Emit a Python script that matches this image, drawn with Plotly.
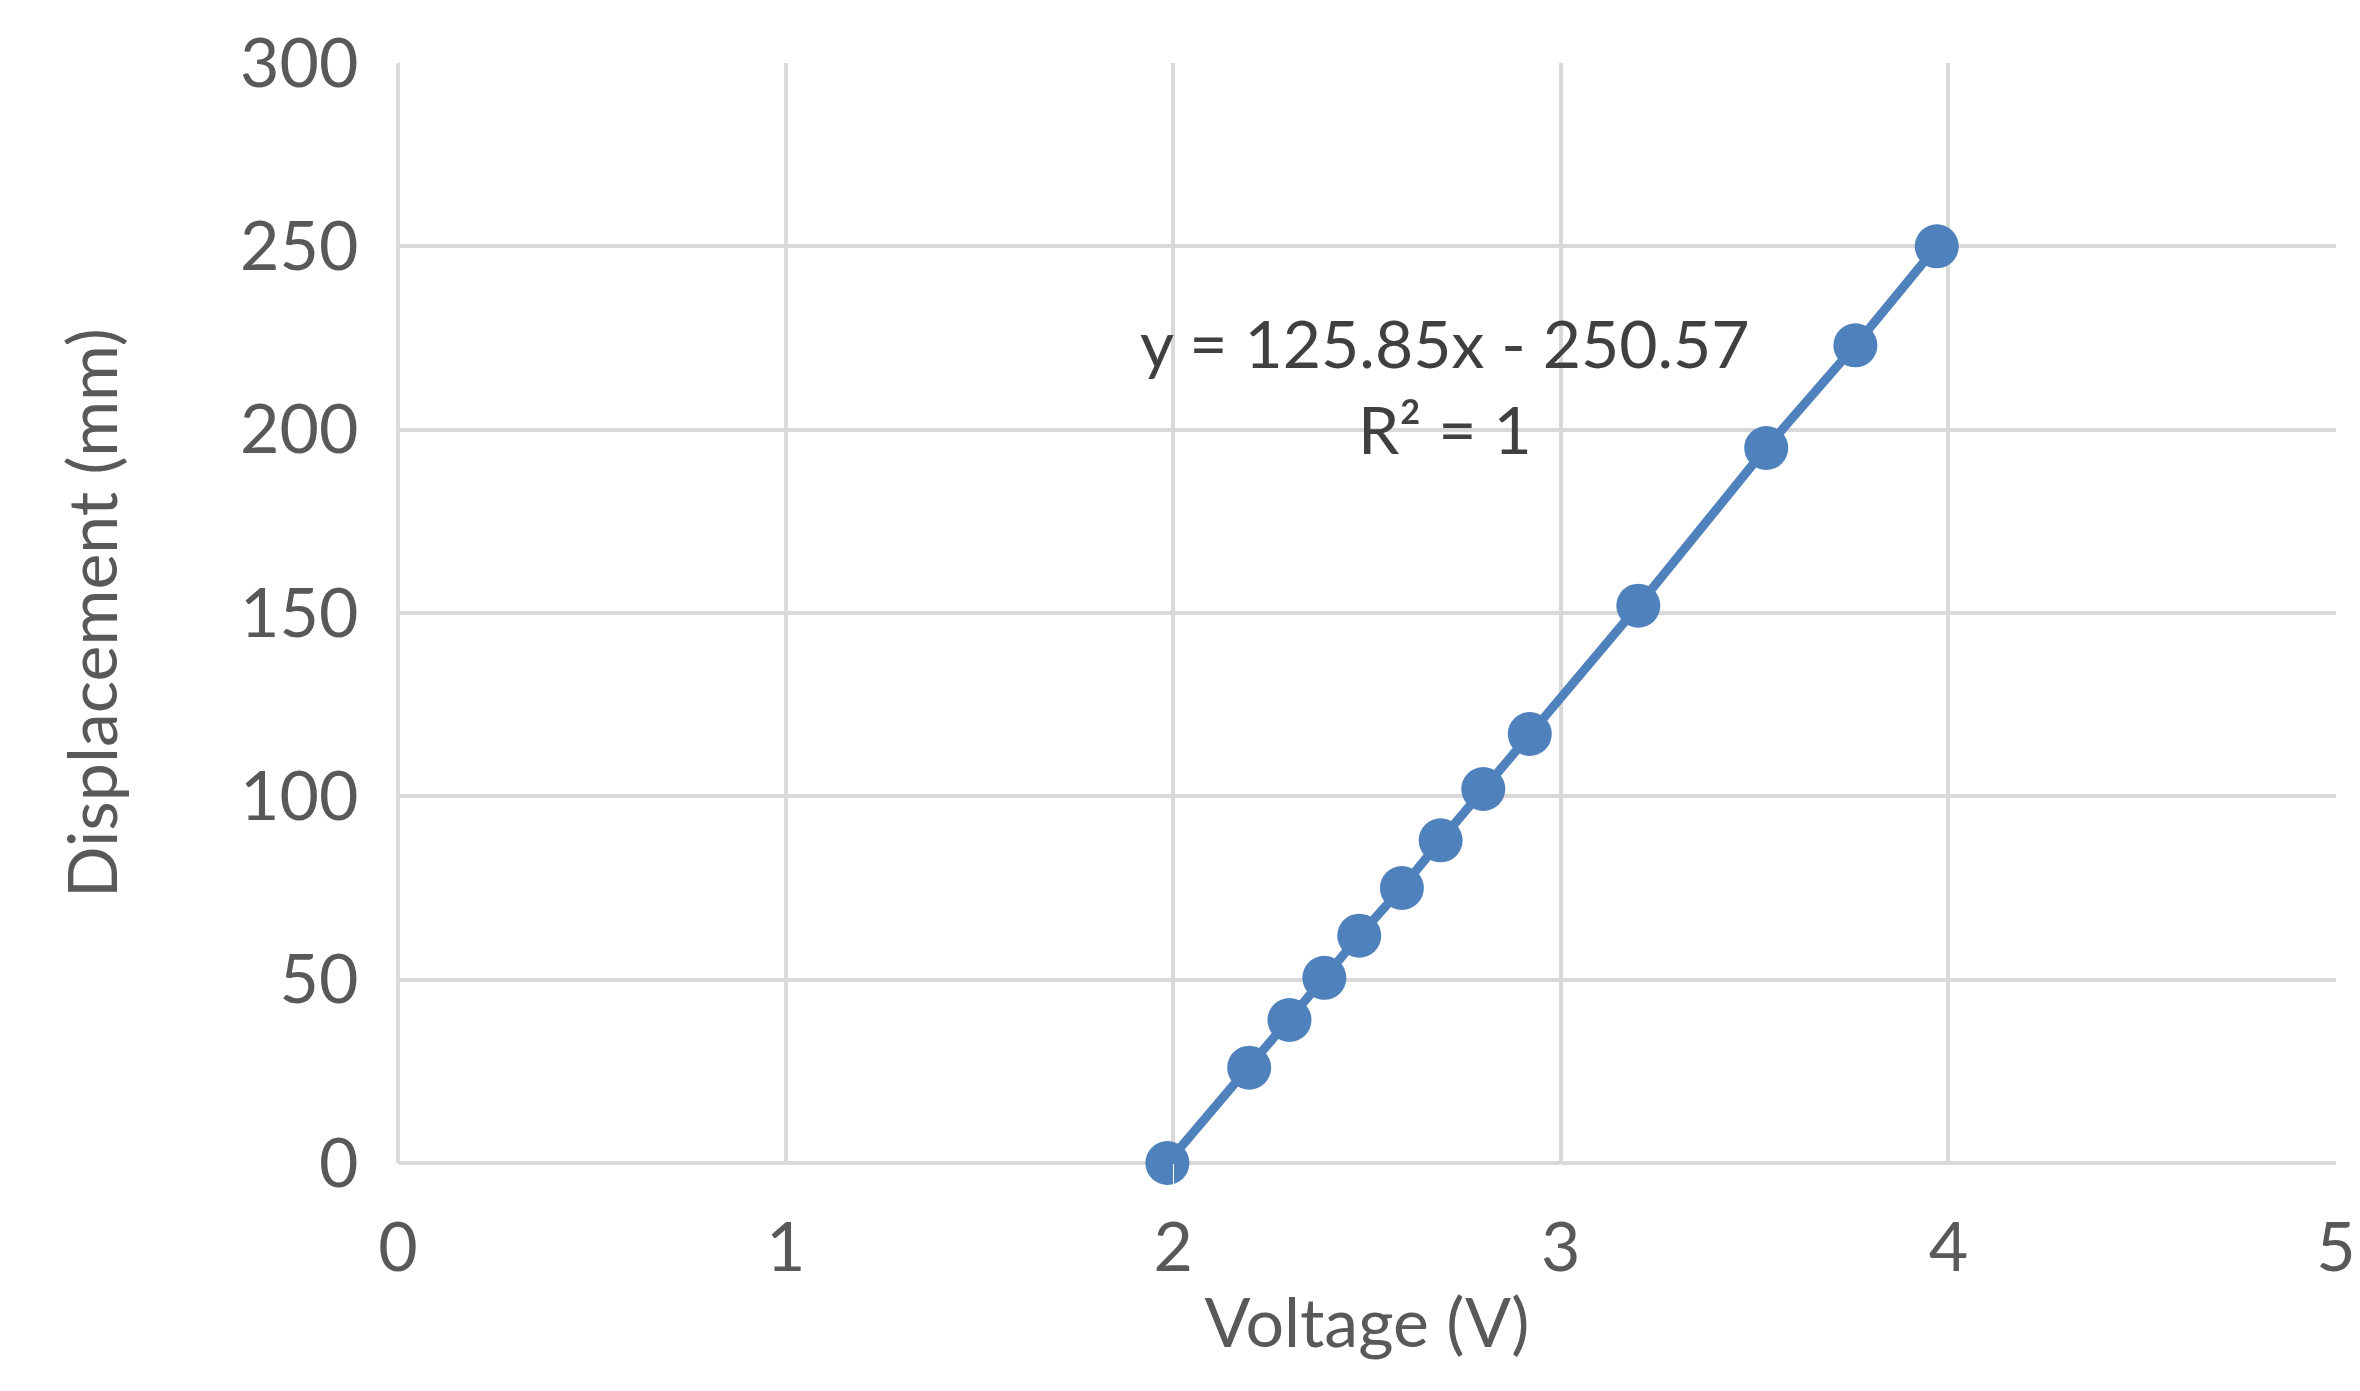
import plotly.graph_objects as go

voltage = [1.985, 2.196, 2.30, 2.39, 2.48, 2.59, 2.69, 2.80, 2.92, 3.20, 3.53, 3.76, 3.97]
displacement = [0, 26, 39, 50.5, 62, 75, 88, 102, 117, 152, 195, 223, 250]

fig = go.Figure()
fig.add_trace(go.Scatter(
    x=voltage, y=displacement, mode='lines+markers',
    line=dict(color='#4F81BD', width=9),
    marker=dict(size=44, color='#4F81BD'),
    showlegend=False, cliponaxis=False
))

fig.add_annotation(x=2.7, y=212, text="y = 125.85x - 250.57<br>R² = 1", showarrow=False,
                   font=dict(family='Lato, Open Sans, sans-serif', size=66, color='#404040'),
                   align='center')

axis_font = dict(family='Lato, Open Sans, sans-serif', size=68, color='#595959')
fig.update_xaxes(range=[0, 5], dtick=1, showgrid=True, gridcolor='#d9d9d9', gridwidth=4,
                 zeroline=True, zerolinecolor='#d9d9d9', zerolinewidth=4, showline=False,
                 tickfont=axis_font, ticks='outside', tickcolor='white', ticklen=25,
                 title=dict(text='Voltage (V)', font=axis_font, standoff=15))
fig.update_yaxes(range=[0, 300], dtick=50, showgrid=True, gridcolor='#d9d9d9', gridwidth=4,
                 zeroline=True, zerolinecolor='#d9d9d9', zerolinewidth=4, showline=False,
                 tickfont=axis_font, ticks='outside', tickcolor='white', ticklen=25,
                 title=dict(text='Displacement (mm)', font=axis_font, standoff=100))

fig.update_layout(
    width=2360, height=1391,
    margin=dict(l=390, r=30, t=54, b=236),
    plot_bgcolor='white', paper_bgcolor='white',
    font=dict(family='Lato, Open Sans, sans-serif', color='#595959')
)

fig.write_html("out.html")
